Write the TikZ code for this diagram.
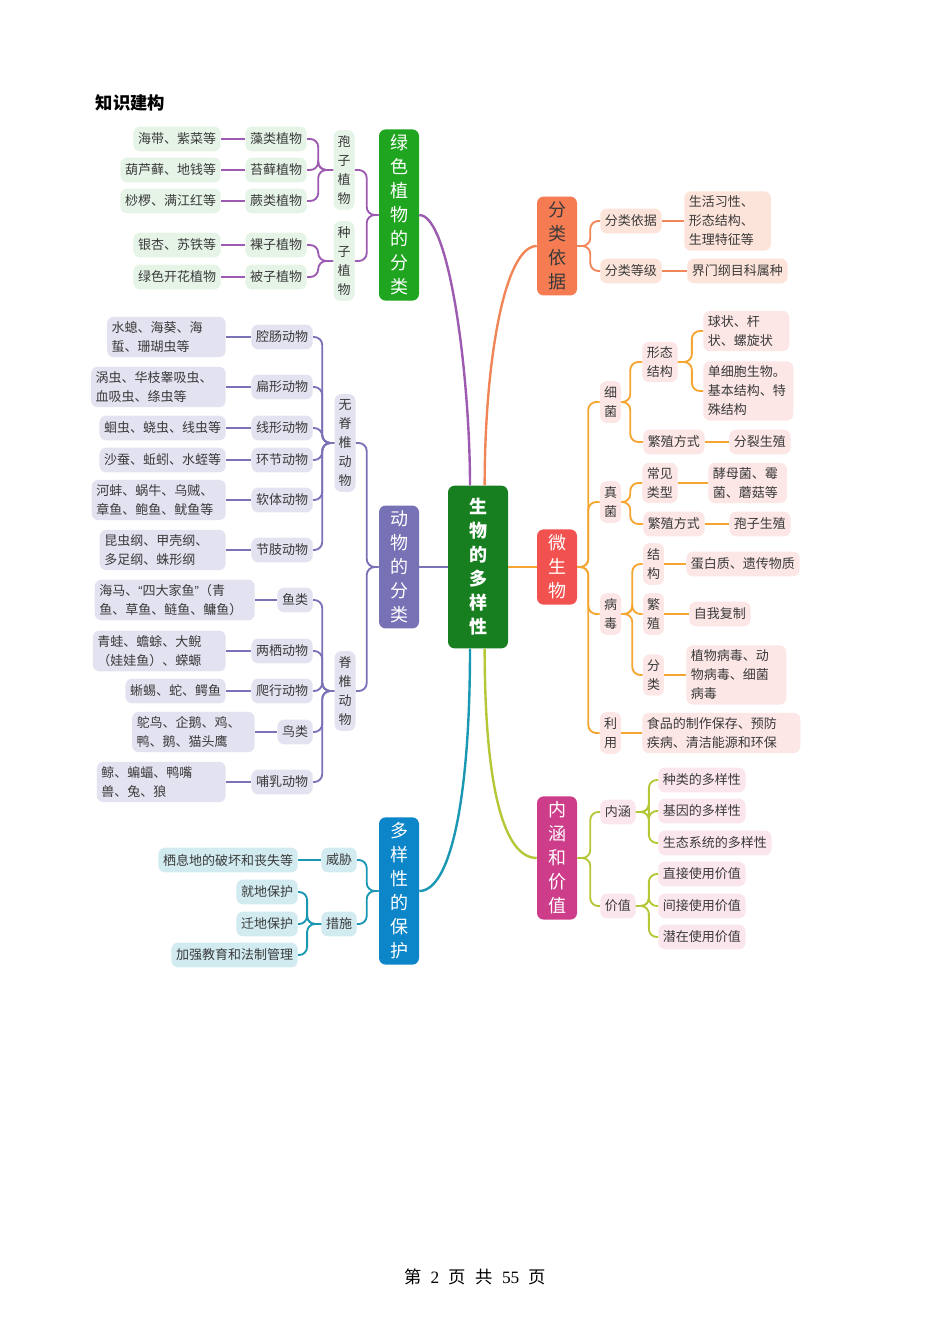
\documentclass[tikz,border=0pt]{standalone}
\usepackage{fontspec}
\setmainfont{Noto Sans CJK SC}
\newfontfamily\narrowq{Liberation Sans}
\newfontfamily\serifnum{Liberation Serif}
\definecolor{hubgreen}{HTML}{187F20}
\definecolor{textdark}{HTML}{3A3A3A}
\definecolor{plantmain}{HTML}{1FA51F}
\definecolor{plantline}{HTML}{9C5BB0}
\definecolor{plantfill}{HTML}{E6F4E8}
\definecolor{animalmain}{HTML}{7771B5}
\definecolor{animalline}{HTML}{7A72B6}
\definecolor{animalfill}{HTML}{E3E2F0}
\definecolor{protmain}{HTML}{0C86C8}
\definecolor{protline}{HTML}{1A97B2}
\definecolor{protfill}{HTML}{D1EBF0}
\definecolor{basismain}{HTML}{F47B52}
\definecolor{basisline}{HTML}{F08657}
\definecolor{basisfill}{HTML}{FDE4DA}
\definecolor{micmain}{HTML}{F1524F}
\definecolor{micline}{HTML}{F5A632}
\definecolor{micfill}{HTML}{FCE6E6}
\definecolor{valmain}{HTML}{CD3D8A}
\definecolor{valline}{HTML}{B5C737}
\definecolor{valfill}{HTML}{FBE6EE}
\tikzset{
 hub/.style={fill=hubgreen,text=white,rounded corners=5pt,align=center,
  font=\bfseries\fontsize{13.5}{18}\selectfont,minimum width=45pt,minimum height=122pt,inner sep=0pt},
 trunk/.style={fill=#1,text=white,rounded corners=5pt,align=center,
  font=\fontsize{13.5}{18}\selectfont,minimum width=30pt,inner xsep=0pt,inner ysep=4pt},
 twig/.style={fill=#1,text=textdark,rounded corners=5pt,
  font=\fontsize{9.75}{14.25}\selectfont,inner xsep=3.5pt,inner ysep=3.5pt,minimum height=18.5pt},
 vtwig/.style={twig=#1,align=center,inner xsep=3pt,inner ysep=4pt},
 leaf/.style={twig=#1,align=left},
 link/.style={draw=#1,line width=1.4pt,rounded corners=6pt},
 limb/.style={draw=#1,line width=1.8pt},
}
\begin{document}
\begin{tikzpicture}[x=0.75pt,y=-0.75pt]
\useasboundingbox (0,0) rectangle (950,1344);
\node[anchor=west,font=\bfseries\fontsize{13}{15}\selectfont] (title) at (91,103) {知识建构};

% centre and main branches
\node[hub] (root) at (478,567) {生\\物\\的\\多\\样\\性};
\node[trunk=plantmain] (plant) at (399,215) {绿\\色\\植\\物\\的\\分\\类};
\node[trunk=animalmain] (animal) at (399,567) {动\\物\\的\\分\\类};
\node[trunk=protmain] (protect) at (399,891) {多\\样\\性\\的\\保\\护};
\node[trunk=basismain,text=textdark] (basis) at (557,246) {分\\类\\依\\据};
\node[trunk=micmain] (microbe) at (557,567) {微\\生\\物};
\node[trunk=valmain] (value) at (557,858) {内\\涵\\和\\价\\值};

\draw[limb=plantline] ([xshift=-6pt]root.north) .. controls +(0,-105) and +(31,0) .. (plant.east);
\draw[limb=basisline] ([xshift=5pt]root.north) .. controls +(0,-125) and +(-32,0) .. (basis.west);
\draw[limb=protline] ([xshift=-6pt]root.south) .. controls +(0,152) and +(31,0) .. (protect.east);
\draw[limb=valline] ([xshift=5pt]root.south) .. controls +(0,142) and +(-32,0) .. (value.west);
\draw[limb=animalline] (animal) -- (root);
\draw[limb=micline] (root) -- (microbe);

% green plants
\node[vtwig=plantfill] (spore) at (344,170) {孢\\子\\植\\物};
\node[vtwig=plantfill] (seed) at (344,261) {种\\子\\植\\物};
\node[twig=plantfill,anchor=east] (alga) at (307,139) {藻类植物};
\node[twig=plantfill,anchor=east] (moss) at (307,170) {苔藓植物};
\node[twig=plantfill,anchor=east] (fern) at (307,201) {蕨类植物};
\node[twig=plantfill,anchor=east] (gymno) at (307,245) {裸子植物};
\node[twig=plantfill,anchor=east] (angio) at (307,277) {被子植物};
\node[twig=plantfill,anchor=east] (algaex) at (221,139) {海带、紫菜等};
\node[twig=plantfill,anchor=east] (mossex) at (221,170) {葫芦藓、地钱等};
\node[twig=plantfill,anchor=east] (fernex) at (221,201) {桫椤、满江红等};
\node[twig=plantfill,anchor=east] (gymnoex) at (221,245) {银杏、苏铁等};
\node[twig=plantfill,anchor=east] (angioex) at (221,277) {绿色开花植物};
\foreach \k in {spore,seed}
 \draw[link=plantline] (plant.west) -- ++(-12,0) |- (\k.east);
\foreach \k in {alga,moss,fern}
 \draw[link=plantline] (spore.west) -- ++(-15,0) |- (\k.east);
\foreach \k in {gymno,angio}
 \draw[link=plantline] (seed.west) -- ++(-15,0) |- (\k.east);
\foreach \k in {alga,moss,fern,gymno,angio}
 \draw[link=plantline] (\k ex.east) -- (\k.west);

% animals
\node[vtwig=animalfill] (invert) at (345,443) {无\\脊\\椎\\动\\物};
\node[vtwig=animalfill] (vert) at (345,691) {脊\\椎\\动\\物};
\node[twig=animalfill,anchor=east] (cnid) at (313,337) {腔肠动物};
\node[twig=animalfill,anchor=east] (flat) at (313,387) {扁形动物};
\node[twig=animalfill,anchor=east] (round) at (313,428) {线形动物};
\node[twig=animalfill,anchor=east] (annel) at (313,460) {环节动物};
\node[twig=animalfill,anchor=east] (mollus) at (313,500) {软体动物};
\node[twig=animalfill,anchor=east] (arthro) at (313,550) {节肢动物};
\node[twig=animalfill,anchor=east] (fish) at (313,600) {鱼类};
\node[twig=animalfill,anchor=east] (amphi) at (313,651) {两栖动物};
\node[twig=animalfill,anchor=east] (rept) at (313,691) {爬行动物};
\node[twig=animalfill,anchor=east] (bird) at (313,732) {鸟类};
\node[twig=animalfill,anchor=east] (mammal) at (313,782) {哺乳动物};
\node[leaf=animalfill,anchor=east,text width=82pt] (cnidex) at (226,337) {水螅、海葵、海\\蜇、珊瑚虫等};
\node[leaf=animalfill,anchor=east,text width=94pt] (flatex) at (226,387) {涡虫、华枝睾吸虫、\\血吸虫、绦虫等};
\node[twig=animalfill,anchor=east] (roundex) at (226,428) {蛔虫、蛲虫、线虫等};
\node[twig=animalfill,anchor=east] (annelex) at (226,460) {沙蚕、蚯蚓、水蛭等};
\node[leaf=animalfill,anchor=east,text width=93.5pt] (mollusex) at (226,500) {河蚌、蜗牛、乌贼、\\章鱼、鲍鱼、鱿鱼等};
\node[leaf=animalfill,anchor=east,text width=87.5pt] (arthroex) at (226,550) {昆虫纲、甲壳纲、\\多足纲、蛛形纲};
\node[leaf=animalfill,anchor=east,text width=113pt] (fishex) at (255,600) {海马、{\narrowq “}四大家鱼{\narrowq ”}（青\\鱼、草鱼、鲢鱼、鳙鱼）};
\node[leaf=animalfill,anchor=east,text width=92.7pt] (amphiex) at (226,651) {青蛙、蟾蜍、大鲵\\（娃娃鱼）、蝾螈};
\node[twig=animalfill,anchor=east] (reptex) at (226,691) {蜥蜴、蛇、鳄鱼};
\node[leaf=animalfill,anchor=east,text width=85pt] (birdex) at (255,732) {鸵鸟、企鹅、鸡、\\鸭、鹅、猫头鹰};
\node[leaf=animalfill,anchor=east,text width=89.7pt] (mammalex) at (226,782) {鲸、蝙蝠、鸭嘴\\兽、兔、狼};
\foreach \k in {invert,vert}
 \draw[link=animalline] (animal.west) -- ++(-12,0) |- (\k.east);
\foreach \k in {cnid,flat,round,annel,mollus,arthro}
 \draw[link=animalline] (invert.west) -- ++(-12,0) |- (\k.east);
\foreach \k in {fish,amphi,rept,bird,mammal}
 \draw[link=animalline] (vert.west) -- ++(-12,0) |- (\k.east);
\foreach \k in {cnid,flat,round,annel,mollus,arthro,fish,amphi,rept,bird,mammal}
 \draw[link=animalline] (\k ex.east) -- (\k.west);

% protection
\node[twig=protfill] (threat) at (339,860) {威胁};
\node[twig=protfill] (measure) at (339,924) {措施};
\node[twig=protfill,anchor=east] (threatex) at (298,860) {栖息地的破坏和丧失等};
\node[twig=protfill,anchor=east] (insitu) at (298,892) {就地保护};
\node[twig=protfill,anchor=east] (exsitu) at (298,924) {迁地保护};
\node[twig=protfill,anchor=east] (educate) at (298,955) {加强教育和法制管理};
\foreach \k in {threat,measure}
 \draw[link=protline] (protect.west) -- ++(-12,0) |- (\k.east);
\foreach \k in {insitu,exsitu,educate}
 \draw[link=protline] (measure.west) -- ++(-14,0) |- (\k.east);
\draw[link=protline] (threatex.east) -- (threat.west);

% classification basis
\node[twig=basisfill,anchor=west] (crit) at (600,221) {分类依据};
\node[twig=basisfill,anchor=west] (rank) at (600,271) {分类等级};
\node[leaf=basisfill,anchor=west,text width=58pt] (critex) at (684,221) {生活习性、\\形态结构、\\生理特征等};
\node[twig=basisfill,anchor=west] (rankex) at (687,271) {界门纲目科属种};
\foreach \k in {crit,rank}
 \draw[link=basisline] (basis.east) -- ++(13,0) |- (\k.west);
\foreach \k in {crit,rank}
 \draw[link=basisline] (\k.east) -- (\k ex.west);

% microbes
\node[vtwig=micfill] (bact) at (610.5,402) {细\\菌};
\node[vtwig=micfill] (fungi) at (610.5,502) {真\\菌};
\node[vtwig=micfill] (virus) at (610.5,614) {病\\毒};
\node[vtwig=micfill] (use) at (610.5,733) {利\\用};
\node[leaf=micfill,anchor=west] (morph) at (642,362) {形态\\结构};
\node[twig=micfill,anchor=west] (brep) at (643,442) {繁殖方式};
\node[leaf=micfill,anchor=west,text width=57.5pt] (shape) at (703,331) {球状、杆\\状、螺旋状};
\node[leaf=micfill,anchor=west,text width=60.5pt] (cell) at (703,391) {单细胞生物。\\基本结构、特\\殊结构};
\node[twig=micfill,anchor=west] (fission) at (729,442) {分裂生殖};
\node[leaf=micfill,anchor=west] (ftype) at (642,483) {常见\\类型};
\node[twig=micfill,anchor=west] (frep) at (643,524) {繁殖方式};
\node[leaf=micfill,anchor=west,text width=52pt] (yeast) at (708,483) {酵母菌、霉\\菌、蘑菇等};
\node[twig=micfill,anchor=west] (sporerep) at (729,524) {孢子生殖};
\node[vtwig=micfill] (vstruct) at (653.5,564) {结\\构};
\node[vtwig=micfill] (vrep) at (653.5,614) {繁\\殖};
\node[vtwig=micfill] (vcls) at (653.5,675) {分\\类};
\node[twig=micfill,anchor=west] (protein) at (686,564) {蛋白质、遗传物质};
\node[twig=micfill,anchor=west] (selfrep) at (689,614) {自我复制};
\node[leaf=micfill,anchor=west,text width=68pt] (vtypes) at (686,675) {植物病毒、动\\物病毒、细菌\\病毒};
\node[leaf=micfill,anchor=west,text width=111.5pt] (useex) at (642,733) {食品的制作保存、预防\\疾病、清洁能源和环保};
\foreach \k in {bact,fungi,virus,use}
 \draw[link=micline] (microbe.east) -- ++(11,0) |- (\k.west);
\foreach \k in {morph,brep}
 \draw[link=micline] (bact.east) -- ++(9,0) |- (\k.west);
\foreach \k in {shape,cell}
 \draw[link=micline] (morph.east) -- ++(14,0) |- (\k.west);
\foreach \k in {ftype,frep}
 \draw[link=micline] (fungi.east) -- ++(9,0) |- (\k.west);
\foreach \k in {vstruct,vrep,vcls}
 \draw[link=micline] (virus.east) -- ++(11,0) |- (\k.west);
\draw[link=micline] (brep) -- (fission);
\draw[link=micline] (ftype) -- (yeast);
\draw[link=micline] (frep) -- (sporerep);
\draw[link=micline] (vstruct) -- (protein);
\draw[link=micline] (vrep) -- (selfrep);
\draw[link=micline] (vcls.east) -- (vtypes.west);
\draw[link=micline] (use) -- (useex);

% meaning and value
\node[twig=valfill,anchor=west] (conn) at (600,812) {内涵};
\node[twig=valfill,anchor=west] (worth) at (600,906) {价值};
\node[twig=valfill,anchor=west] (species) at (658,780) {种类的多样性};
\node[twig=valfill,anchor=west] (gene) at (658,811) {基因的多样性};
\node[twig=valfill,anchor=west] (ecosys) at (658,843) {生态系统的多样性};
\node[twig=valfill,anchor=west] (direct) at (658,874) {直接使用价值};
\node[twig=valfill,anchor=west] (indirect) at (658,906) {间接使用价值};
\node[twig=valfill,anchor=west] (latent) at (658,937) {潜在使用价值};
\foreach \k in {conn,worth}
 \draw[link=valline] (value.east) -- ++(13,0) |- (\k.west);
\foreach \k in {species,gene,ecosys}
 \draw[link=valline] (conn.east) -- ++(13,0) |- (\k.west);
\foreach \k in {direct,indirect,latent}
 \draw[link=valline] (worth.east) -- ++(13,0) |- (\k.west);

\node[font=\fontsize{13}{15}\selectfont] (foot) at (475,1277)
 {第\hspace{7pt}{\serifnum 2}\hspace{7pt}页\hspace{7pt}共\hspace{7pt}{\serifnum 55}\hspace{7pt}页};
\end{tikzpicture}
\end{document}
